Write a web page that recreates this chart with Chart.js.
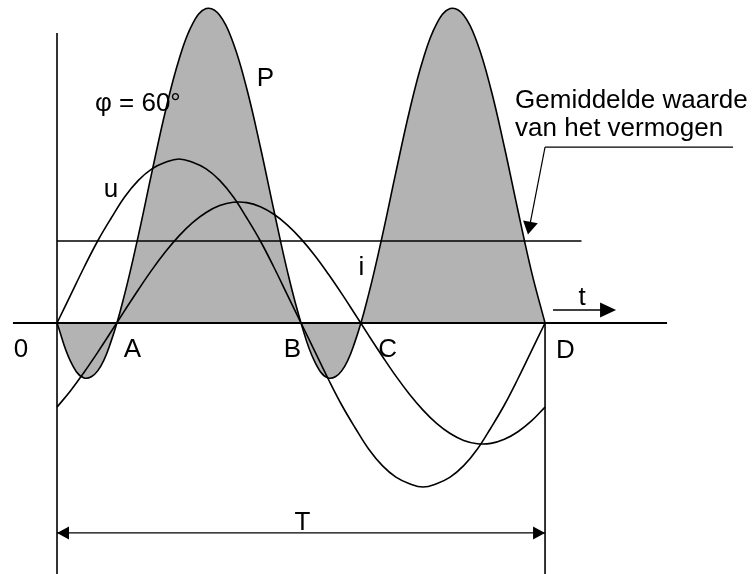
<!DOCTYPE html>
<html>
<head>
<meta charset="utf-8">
<script src="https://cdn.jsdelivr.net/npm/chart.js@4"></script>
<style>
  html,body{margin:0;padding:0;background:#fff;}
  #wrap{width:753px;height:574px;position:relative;}
</style>
</head>
<body>
<div id="wrap"><canvas id="c"></canvas></div>
<script>
// phase angle (degrees) over one period T
const theta = [0,10,20,30,40,50,60,70,80,90,100,110,120,130,140,150,160,170,180,
               190,200,210,220,230,240,250,260,270,280,290,300,310,320,330,340,350,360];
// voltage u
const uVals = [0,17,34,50,64,77,87,94,98,100,98,94,87,77,64,50,34,17,0,
               -17,-34,-50,-64,-77,-87,-94,-98,-100,-98,-94,-87,-77,-64,-50,-34,-17,0];
// current i (lagging)
const iVals = [-51.3,-41.3,-30.0,-17.9,-5.2,7.7,20.3,32.4,43.4,53.1,61.2,67.4,71.6,73.6,73.4,70.9,66.3,59.7,51.3,
               41.3,30.0,17.9,5.2,-7.7,-20.3,-32.4,-43.4,-53.1,-61.2,-67.4,-71.6,-73.6,-73.4,-70.9,-66.3,-59.7,-51.3];
// power P = u * i
const pVals = [0,-23.4,-33.5,-29.2,-10.9,17.9,53.3,92.0,129.3,160.7,182.4,191.7,187.7,170.7,142.8,107.3,68.6,31.3,0,
               -23.4,-33.5,-29.2,-10.9,17.9,53.3,92.0,129.3,160.7,182.4,191.7,187.7,170.7,142.8,107.3,68.6,31.3,0];
// average power
const avgLevel = 50;
const pointLabels = ['0','A','B','C','D'];

const pts = vals => theta.map((t,k)=>({x:t, y:vals[k]}));

const FONT = '26px "Liberation Sans", Arial, Helvetica, sans-serif';

const overlay = {
  id:'overlay',
  afterDatasetsDraw(chart){
    const {ctx, scales:{x, y}} = chart;
    const X = v => x.getPixelForValue(v), Y = v => y.getPixelForValue(v);
    ctx.save();
    ctx.strokeStyle = '#000'; ctx.fillStyle = '#000'; ctx.lineCap = 'butt';
    const line = (x1,y1,x2,y2,w) => {
      ctx.lineWidth = w; ctx.beginPath();
      ctx.moveTo(X(x1),Y(y1)); ctx.lineTo(X(x2),Y(y2)); ctx.stroke();
    };
    const head = (x0,y0,x1,y1,L,W) => {
      const px1=X(x1), py1=Y(y1), px0=X(x0), py0=Y(y0);
      const a = Math.atan2(py1-py0, px1-px0);
      ctx.beginPath();
      ctx.moveTo(px1,py1);
      ctx.lineTo(px1 - L*Math.cos(a) + W*Math.sin(a), py1 - L*Math.sin(a) - W*Math.cos(a));
      ctx.lineTo(px1 - L*Math.cos(a) - W*Math.sin(a), py1 - L*Math.sin(a) + W*Math.cos(a));
      ctx.closePath(); ctx.fill();
    };
    const yBottom = y.min;
    // axes
    line(0, 176.8, 0, yBottom, 1.6);
    line(360, 0, 360, yBottom, 1.6);
    line(-32.5, 0, 450, 0, 2);
    // period T dimension line
    line(0, -128, 360, -128, 1.4);
    head(30, -128, 0, -128, 12, 6.5);
    head(330, -128, 360, -128, 12, 6.5);
    // t arrow
    line(365.9, 7.9, 405, 7.9, 1.4);
    head(365.9, 7.9, 412.4, 7.9, 16, 7.5);
    // annotation underline + leader
    line(360, 107.3, 498.7, 107.3, 1.2);
    line(360, 107.3, 347.8, 55.5, 1.2);
    head(360, 107.3, 347.4, 53.9, 13, 7.5);

    ctx.font = FONT; ctx.textBaseline = 'alphabetic';
    const txt = (s, tx, ty, align) => { ctx.textAlign = align || 'center'; ctx.fillText(s, X(tx), Y(ty)); };
    txt(pointLabels[0], -26.6, -20.7);
    txt(pointLabels[1], 55.7, -20.7);
    txt(pointLabels[2], 173.7, -20.7);
    txt(pointLabels[3], 243.8, -20.7);
    txt(pointLabels[4], 375.1, -21.3);
    txt('T', 181.1, -126.2);
    txt('P', 153.8, 144.5);
    txt('u', 39.8, 76.8);
    txt('i', 224.6, 29.3);
    txt('t', 387.3, 11.0);
    txt('φ = 60°', 28.0, 129.3, 'left');
    txt('Gemiddelde waarde', 337.9, 131.1, 'left');
    txt('van het vermogen', 337.9, 114.0, 'left');
    ctx.restore();
  }
};

new Chart(document.getElementById('c'), {
  type: 'line',
  data: {
    datasets: [
      { label:'P', data: pts(pVals), borderColor:'#000', borderWidth:1.6,
        backgroundColor:'#b3b3b3', fill:'origin', tension:0.4, pointRadius:0 },
      { label:'u', data: pts(uVals), borderColor:'#000', borderWidth:1.6,
        fill:false, tension:0.4, pointRadius:0 },
      { label:'i', data: pts(iVals), borderColor:'#000', borderWidth:1.6,
        fill:false, tension:0.4, pointRadius:0 },
      { label:'gemiddelde', data: [{x:0, y:avgLevel},{x:386.9, y:avgLevel}], borderColor:'#000',
        borderWidth:1.6, fill:false, tension:0, pointRadius:0 }
    ]
  },
  options: {
    responsive: true, maintainAspectRatio: false, animation: false,
    devicePixelRatio: 1,
    layout: { padding: 0 },
    scales: {
      x: { type:'linear', min:-42.05, max:513.4, display:false },
      y: { type:'linear', min:-153.05, max:196.95, display:false }
    },
    plugins: {
      legend: { display:false },
      tooltip: { enabled:false },
      filler: { drawTime: 'beforeDatasetsDraw' }
    }
  },
  plugins: [overlay]
});
</script>
</body>
</html>
